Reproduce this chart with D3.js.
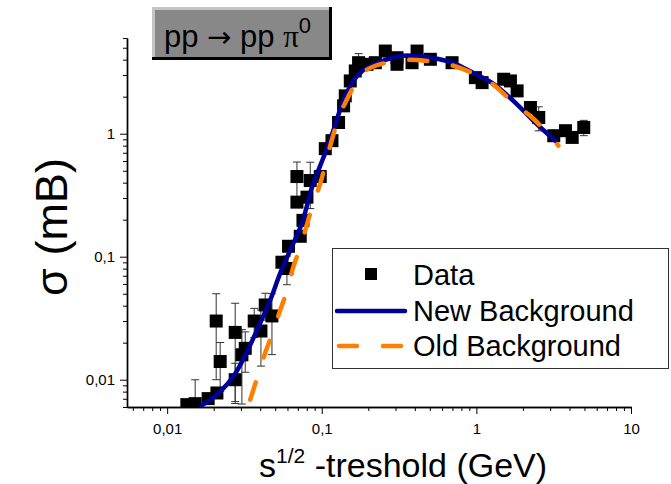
<!DOCTYPE html>
<html>
<head>
<meta charset="utf-8">
<script src="https://cdn.jsdelivr.net/npm/d3@7"></script>
<style>
body { margin: 0; background: #fff; }
svg text { font-family: "Liberation Sans", Arial, sans-serif; fill: #000; }
.axis path, .axis line { stroke: #000; }
.axis text { font-size: 15px; font-family: "Liberation Sans", Arial, sans-serif; }
</style>
</head>
<body>
<svg id="chart" width="671" height="484"></svg>
<script>
(function() {

// measured cross sections, pp -> pp pi0
var dataX = [0.01341, 0.01518, 0.01842, 0.02098, 0.02076, 0.02203, 0.02755, 0.02755, 0.03045, 0.03199,
             0.03657, 0.04042, 0.04309, 0.04762, 0.05526, 0.05953, 0.06096, 0.07258, 0.07557, 0.0691,
             0.08021, 0.0691, 0.08426, 0.09779, 0.1054, 0.1164, 0.1284, 0.1384, 0.1419, 0.1529,
             0.1647, 0.1730, 0.1962, 0.2220, 0.2576, 0.3067, 0.3067, 0.3836, 0.4133, 0.5039,
             0.6962, 0.985, 1.089, 1.502, 1.660, 1.834, 2.236, 2.531, 3.165, 3.769, 4.164, 4.949];
var dataY = [0.00627, 0.00639, 0.00702, 0.0078, 0.0300, 0.01406, 0.02424, 0.0100, 0.01594, 0.0180,
             0.0300, 0.0249, 0.0405, 0.0330, 0.0902, 0.0802, 0.1216, 0.1466, 0.1975, 0.2778,
             0.3049, 0.4485, 0.4163, 0.4485, 0.756, 0.8777, 1.234, 1.685, 2.031, 2.686,
             3.237, 3.779, 3.667, 3.779, 4.699, 4.148, 3.667, 3.779, 4.699, 4.027,
             3.779, 2.857, 2.603, 2.773, 2.686, 2.229, 1.633, 1.355, 0.963, 1.058, 0.933, 1.124];
var dataErr = [0, 0.0036, 0, 0, 0.020, 0.006, 0.0176, 0.0036, 0.0096, 0.0065,
               0.008, 0.012, 0.010, 0.017, 0, 0.021, 0, 0, 0, 0,
               0, 0.14, 0.17, 0, 0, 0, 0, 0, 0, 0,
               0, 0.7, 0, 0, 0, 0, 0, 0, 0, 0,
               0, 0, 0, 0, 0, 0, 0, 0.3, 0, 0, 0, 0.16];

// new background fit
var newBgX = [0.01635, 0.02203, 0.02755, 0.0328, 0.0390, 0.0464, 0.0539, 0.0625, 0.0744, 0.0864,
              0.09779, 0.1054, 0.1187, 0.1378, 0.1599, 0.1829, 0.2287, 0.3222, 0.4151, 0.5268,
              0.7098, 0.9563, 1.288, 1.736, 2.338, 3.344];
var newBgY = [0.00605, 0.00800, 0.01120, 0.01685, 0.0270, 0.0444, 0.0735, 0.1129, 0.1867, 0.3654,
              0.5507, 0.7019, 1.058, 1.850, 2.686, 3.237, 3.757, 4.280, 4.280, 4.125,
              3.757, 3.118, 2.540, 1.850, 1.274, 0.8454];

// old background fit
var oldBgX = [0.03446, 0.03824, 0.04309, 0.04782, 0.0539, 0.05979, 0.06538, 0.07258, 0.08056, 0.0881,
              0.09779, 0.1069, 0.1169, 0.1279, 0.1398, 0.1529, 0.1647, 0.1829, 0.2123, 0.2576,
              0.3369, 0.4818, 0.6492, 0.9421, 1.269, 1.736, 2.338, 3.394];
var oldBgY = [0.00689, 0.01038, 0.01654, 0.02358, 0.03688, 0.05355, 0.0822, 0.1194, 0.1867, 0.2712,
              0.3937, 0.6045, 0.9111, 1.323, 1.717, 2.148, 2.588, 3.118, 3.487, 3.757,
              3.974, 3.900, 3.688, 3.118, 2.540, 1.782, 1.323, 0.7995];

var xTickVals = [0.01, 0.1, 1, 10];
var xTickLabels = ["0,01", "0,1", "1", "10"];
var yTickVals = [0.01, 0.1, 1];
var yTickLabels = ["0,01", "0,1", "1"];

var legendNames = ["Data", "New Background", "Old Background"];

var blue = "#000099", orange = "#ff8000";

var svg = d3.select("#chart");
var left = 127, right = 631, top = 38, bottom = 407;

var x = d3.scaleLog().domain([0.0055, 10]).range([left, right]);
var y = d3.scaleLog().domain([0.006, 6]).range([bottom, top]);

svg.append("defs").append("clipPath").attr("id", "plotclip")
  .append("rect")
    .attr("x", left).attr("y", 0)
    .attr("width", 671 - left).attr("height", bottom);

// axes: minor ticks first, then labelled majors
function isMajor(list) {
  return function(d) { return list.some(function(v) { return Math.abs(Math.log10(d) - Math.log10(v)) < 1e-6; }); };
}

var xMinor = x.ticks().filter(function(d) { return !isMajor(xTickVals)(d); });
var yMinor = y.ticks().filter(function(d) { return !isMajor(yTickVals)(d); });

svg.append("g").attr("class", "axis")
  .attr("transform", "translate(0," + bottom + ")")
  .call(d3.axisBottom(x).tickValues(xMinor).tickSize(4).tickSizeOuter(0).tickFormat(""));
svg.append("g").attr("class", "axis")
  .attr("transform", "translate(0," + bottom + ")")
  .call(d3.axisBottom(x).tickValues(xTickVals).tickSize(7).tickSizeOuter(0).tickPadding(9)
    .tickFormat(function(d, i) { return xTickLabels[i]; }));

svg.append("g").attr("class", "axis")
  .attr("transform", "translate(" + left + ",0)")
  .call(d3.axisLeft(y).tickValues(yMinor).tickSize(4).tickSizeOuter(0).tickFormat(""));
svg.append("g").attr("class", "axis")
  .attr("transform", "translate(" + left + ",0)")
  .call(d3.axisLeft(y).tickValues(yTickVals).tickSize(7).tickSizeOuter(0).tickPadding(5)
    .tickFormat(function(d, i) { return yTickLabels[i]; }));

svg.selectAll(".axis .domain").attr("stroke-width", 1.4);

// plot contents
var plot = svg.append("g").attr("clip-path", "url(#plotclip)");

var points = dataX.map(function(d, i) { return {x: d, y: dataY[i], e: dataErr[i]}; });

var bars = plot.append("g").attr("stroke", "#333").attr("stroke-width", 1);
points.filter(function(d) { return d.e > 0; }).forEach(function(d) {
  var lo = Math.max(d.y - d.e, 1e-4), hi = d.y + d.e;
  var cx = x(d.x);
  bars.append("line").attr("x1", cx).attr("x2", cx).attr("y1", y(lo)).attr("y2", y(hi));
  bars.append("line").attr("x1", cx - 4).attr("x2", cx + 4).attr("y1", y(hi)).attr("y2", y(hi));
  bars.append("line").attr("x1", cx - 4).attr("x2", cx + 4).attr("y1", y(lo)).attr("y2", y(lo));
});

var sq = 13;
plot.append("g").selectAll("rect")
  .data(points)
  .enter().append("rect")
    .attr("x", function(d) { return x(d.x) - sq / 2; })
    .attr("y", function(d) { return y(d.y) - sq / 2; })
    .attr("width", sq).attr("height", sq)
    .attr("fill", "#000");

var line = d3.line()
  .x(function(d) { return x(d[0]); })
  .y(function(d) { return y(d[1]); })
  .curve(d3.curveCatmullRom.alpha(0.5));

plot.append("path")
  .datum(newBgX.map(function(d, i) { return [d, newBgY[i]]; }))
  .attr("d", line)
  .attr("fill", "none").attr("stroke", blue).attr("stroke-width", 4.5);

plot.append("path")
  .datum(oldBgX.map(function(d, i) { return [d, oldBgY[i]]; }))
  .attr("d", line)
  .attr("fill", "none").attr("stroke", orange).attr("stroke-width", 4.5)
  .attr("stroke-linecap", "round")
  .attr("stroke-dasharray", "18 26");

// axis titles
svg.append("text")
  .attr("transform", "translate(67,227) rotate(-90)")
  .attr("text-anchor", "middle")
  .style("font-size", "45px")
  .text("\u03c3 (mB)");

var xt = svg.append("text")
  .attr("x", 259).attr("y", 477)
  .style("font-size", "34px");
xt.append("tspan").text("s");
xt.append("tspan").attr("dy", -14).style("font-size", "21px").text("1/2");
xt.append("tspan").attr("dy", 14).text(" -treshold (GeV)");

// reaction label box
var tb = svg.append("g");
tb.append("rect").attr("x", 152).attr("y", 7).attr("width", 180).attr("height", 53).attr("fill", "#888");
tb.append("path").attr("d", "M153.5,60 V8.5 H332").attr("fill", "none").attr("stroke", "#c4c4c4").attr("stroke-width", 3);
tb.append("path").attr("d", "M152,58.5 H330.5 V7").attr("fill", "none").attr("stroke", "#000").attr("stroke-width", 3);
var tt = tb.append("text").attr("x", 164).attr("y", 47).style("font-size", "31px");
tt.append("tspan").text("pp ");
tt.append("tspan").style("font-family", "'DejaVu Sans', sans-serif").style("font-size", "29px").text("\u2192");
tt.append("tspan").text(" pp ");
tt.append("tspan").style("font-family", "'Liberation Serif', serif").text("\u03c0");
tt.append("tspan").attr("dy", -14).style("font-size", "22px").text("0");

// legend
var lg = svg.append("g");
lg.append("rect").attr("x", 332.5).attr("y", 248.5).attr("width", 336).attr("height", 120)
  .attr("fill", "#fff").attr("stroke", "#333").attr("stroke-width", 1);
var rowY = [285, 321, 356];
lg.append("rect").attr("x", 365).attr("y", rowY[0] - 17).attr("width", 12).attr("height", 12).attr("fill", "#000");
lg.append("line").attr("x1", 337).attr("x2", 405).attr("y1", rowY[1] - 10).attr("y2", rowY[1] - 10)
  .attr("stroke", blue).attr("stroke-width", 4.5).attr("stroke-linecap", "round");
lg.append("line").attr("x1", 339).attr("x2", 405).attr("y1", rowY[2] - 10).attr("y2", rowY[2] - 10)
  .attr("stroke", orange).attr("stroke-width", 4.5).attr("stroke-linecap", "round")
  .attr("stroke-dasharray", "18 26");
lg.selectAll("text.lbl")
  .data(legendNames)
  .enter().append("text")
    .attr("class", "lbl")
    .attr("x", 413)
    .attr("y", function(d, i) { return rowY[i]; })
    .style("font-size", "29px")
    .text(function(d) { return d; });

})();
</script>
</body>
</html>
